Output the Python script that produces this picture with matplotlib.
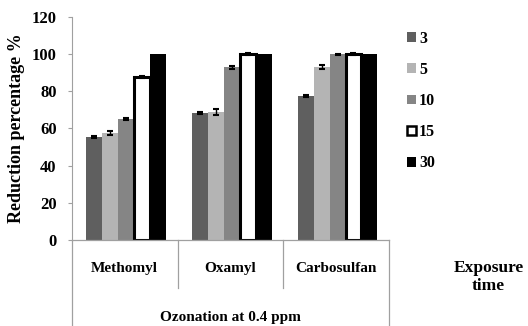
import matplotlib
matplotlib.use("Agg")
import matplotlib.pyplot as plt
import numpy as np
from matplotlib.patches import Patch

categories = ["Methomyl", "Oxamyl", "Carbosulfan"]
times = ["3", "5", "10", "15", "30"]
values = {
    "3":  [55.5, 68.2, 77.5],
    "5":  [57.5, 69.0, 93.0],
    "10": [65.2, 92.8, 100.0],
    "15": [87.8, 100.0, 100.0],
    "30": [100.0, 100.0, 100.0],
}
errors = {
    "3":  [0.5, 0.5, 0.7],
    "5":  [1.0, 1.5, 1.2],
    "10": [0.5, 0.7, 0.3],
    "15": [0.5, 0.5, 0.5],
    "30": [0.0, 0.0, 0.0],
}
yticks = [0, 20, 40, 60, 80, 100, 120]

face = {"3": "#5f5f5f", "5": "#b4b4b4", "10": "#858585", "15": "white", "30": "black"}
edge = {"3": "#5f5f5f", "5": "#b4b4b4", "10": "#858585", "15": "black", "30": "black"}
lw = {"3": 0, "5": 0, "10": 0, "15": 2.2, "30": 0}

plt.rcParams['font.family'] = ['Liberation Serif', 'DejaVu Serif']

fig = plt.figure(figsize=(5.28, 3.26), dpi=100)
ax = fig.add_axes([0.136, 0.264, 0.601, 0.684])

x = np.arange(len(categories))
w = 0.151
for i, t in enumerate(times):
    off = (i - 2) * w + 0.012
    ax.bar(x + off, values[t], w, color=face[t], edgecolor=edge[t], linewidth=lw[t], zorder=2)
    err = np.array(errors[t])
    m = err > 0
    if m.any():
        ax.errorbar((x + off)[m], np.array(values[t])[m], yerr=err[m], fmt='none', ecolor='black',
                    elinewidth=1.0, capsize=2.5, capthick=1.5, zorder=3)

ax.set_xlim(-0.5, 2.5)
ax.set_ylim(0, 120)
ax.set_yticks(yticks)
ax.set_yticklabels([str(v) for v in yticks], fontweight='bold', fontsize=12)
ax.set_xticks([])
for s in ['top', 'right', 'bottom']:
    ax.spines[s].set_visible(False)
ax.spines['left'].set_color('#a0a0a0')
ax.tick_params(axis='y', length=3, color='#a0a0a0', pad=8)
ax.set_ylabel("Reduction percentage %", fontweight='bold', fontsize=13, labelpad=5)

gc = '#a0a0a0'
ax.plot([0, 1], [0, 0], transform=ax.transAxes, color=gc, lw=0.9, clip_on=False)
ax.plot([0, 0], [0, -0.39], transform=ax.transAxes, color=gc, lw=0.9, clip_on=False)
ax.plot([1, 1], [0, -0.39], transform=ax.transAxes, color=gc, lw=0.9, clip_on=False)
for xs in [1/3, 2/3]:
    ax.plot([xs, xs], [0, -0.215], transform=ax.transAxes, color=gc, lw=0.9, clip_on=False)

for i, c in enumerate(categories):
    ax.text(i, -0.126, c, transform=ax.get_xaxis_transform(), ha='center', va='center',
            fontsize=11, fontweight='bold')
ax.text(0.5, -0.35, "Ozonation at 0.4 ppm", transform=ax.transAxes, ha='center', va='center',
        fontsize=11, fontweight='bold')

fig.text(0.925, 0.15, "Exposure\ntime", ha='center', va='center', fontsize=12.5,
         fontweight='bold', linespacing=1.15)

handles = [Patch(facecolor=face[t], edgecolor=edge[t], linewidth=(1.8 if t == "15" else 0)) for t in times]
leg = fig.legend(handles, times, loc='upper left', bbox_to_anchor=(0.744, 0.95),
                 frameon=False, handlelength=0.55, handleheight=0.55, handletextpad=0.2,
                 labelspacing=0.95, prop={'weight': 'bold', 'size': 11.5})

fig.savefig("out.png", dpi=100)
